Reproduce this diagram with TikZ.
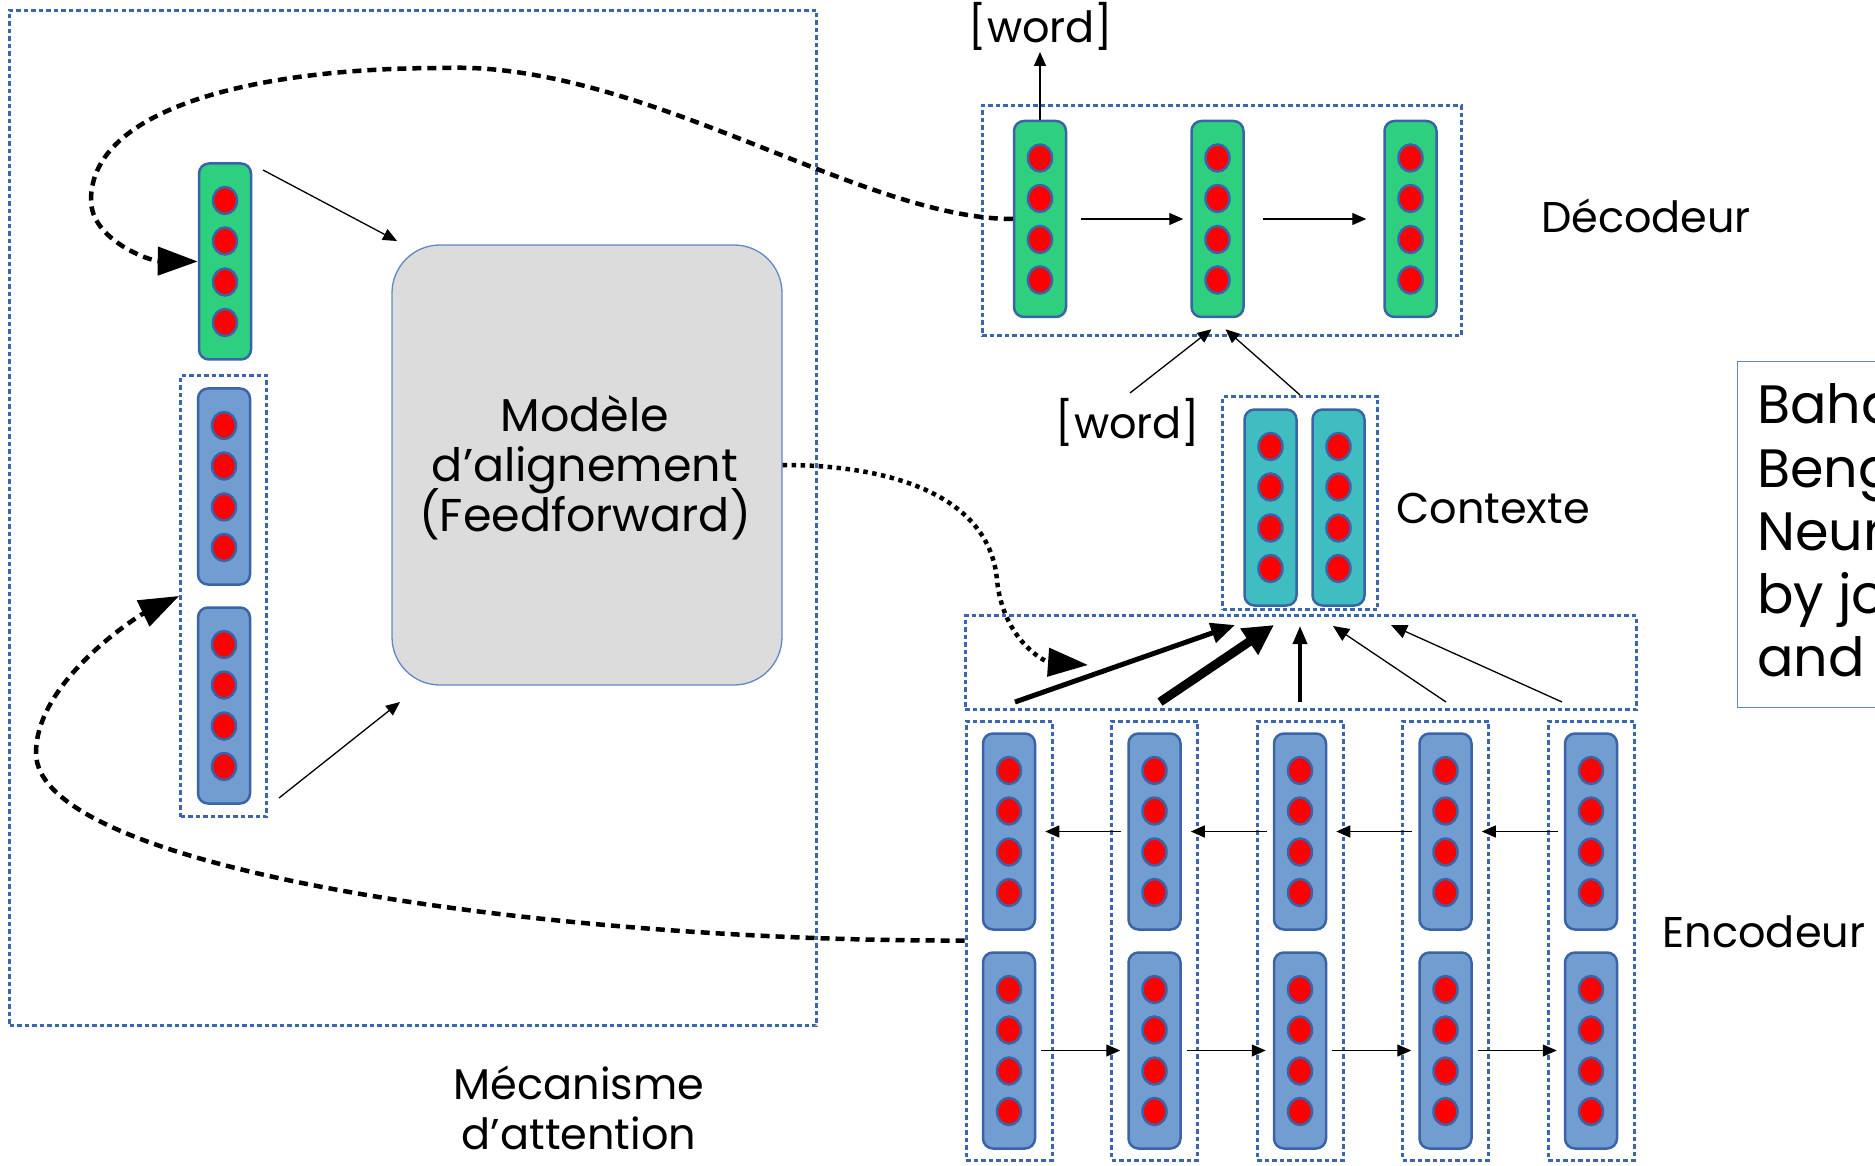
\documentclass[tikz,border=0pt]{standalone}
\usepackage{fontspec}
\setmainfont{Poppins}
\usetikzlibrary{arrows.meta}

\definecolor{cgreen}{RGB}{46,208,128}
\definecolor{cblue}{RGB}{114,157,208}
\definecolor{cteal}{RGB}{64,189,192}
\definecolor{cedge}{RGB}{58,99,168}
\definecolor{cframe}{RGB}{58,102,176}
\definecolor{cgray}{RGB}{220,220,220}
\definecolor{cline}{RGB}{96,136,198}

\tikzset{
  cellbox/.style={draw=cedge, line width=2.5pt, rounded corners=10pt,
    minimum width=52pt, minimum height=196pt, inner sep=0pt},
  neuron/.style={draw=cedge, line width=2.5pt, fill=red},
  frame/.style={draw=cframe, line width=3pt, dash pattern=on 4.5pt off 3pt, inner sep=0pt},
  thinarrow/.style={-{Triangle[length=14pt,width=12pt]}, line width=1.3pt},
  looplink/.style={line width=4.5pt, dash pattern=on 9pt off 6pt,
    -{Triangle[length=40pt,width=28pt]}},
  scorelink/.style={line width=4.5pt, dash pattern=on 4.5pt off 4.5pt,
    -{Triangle[length=40pt,width=28pt]}},
  lbl/.style={font=\fontsize{43}{48}\selectfont, anchor=base, inner sep=0pt},
  boxtext/.style={font=\fontsize{46}{48}\selectfont, anchor=base, inner sep=0pt},
  reftext/.style={font=\fontsize{54}{63}\selectfont, anchor=base west, inner sep=0pt},
}

% a vector: rounded column with four neurons
\newcommand\vecnode[4]{%
  \node[cellbox, fill=#4] (#1) at (#2,#3) {};
  \foreach \dy in {-61,-20.5,20.5,61}
    \draw[neuron] (#2,#3+\dy) ellipse [x radius=12pt, y radius=13.5pt];
}

\begin{document}
\begin{tikzpicture}[x=1pt, y=-1pt]
\clip (0,0) rectangle (1875,1166);
\fill[white] (0,0) rectangle (1875,1166);

% ---------- attention mechanism ----------
\node[frame, line width=2.5pt, minimum width=807pt, minimum height=1015pt] (attn) at (413,518) {};
\node[frame, minimum width=86pt, minimum height=441pt] (encpair) at (223.6,596) {};
\vecnode{q}{225}{261.5}{cgreen}
\vecnode{h1}{224}{486.5}{cblue}
\vecnode{h2}{224}{705.5}{cblue}
\node[draw=cline, line width=1.3pt, fill=cgray, rounded corners=48pt,
      minimum width=390pt, minimum height=440pt, inner sep=0pt] (align) at (587,465) {};
\node[boxtext] (al1) at (585,431) {Modèle};
\node[boxtext] (al2) at (585,481) {d’alignement};
\node[boxtext] (al3) at (585,531) {(Feedforward)};
\node[lbl] (mech1) at (579,1099) {Mécanisme};
\node[lbl] (mech2) at (579,1149) {d’attention};

% ---------- decoder ----------
\node[frame, minimum width=479pt, minimum height=230pt] (decbox) at (1221.5,221) {};
\vecnode{d1}{1040}{219}{cgreen}
\vecnode{d2}{1217.5}{219}{cgreen}
\vecnode{d3}{1410.5}{219}{cgreen}
\node[lbl] (decl) at (1646,233) {Décodeur};
\node[lbl] (wout) at (1041,43) {[word]};

% ---------- context ----------
\node[frame, minimum width=155pt, minimum height=213pt] (ctxbox) at (1300,503) {};
\vecnode{c1}{1270.5}{507.5}{cteal}
\vecnode{c2}{1338.5}{507.5}{cteal}
\node[lbl] (ctxl) at (1493,523) {Contexte};
\node[lbl] (win) at (1128,438) {[word]};

% ---------- attention weights ----------
\node[frame, minimum width=671pt, minimum height=94pt] (scorebox) at (1300.5,662.5) {};

% ---------- encoder ----------
\foreach \i/\x in {1/1009,2/1154.5,3/1300,4/1445.5,5/1591}{
  \node[frame, minimum width=86pt, minimum height=439pt] (e\i box) at (\x,940.5) {};
  \vecnode{e\i u}{\x}{831.5}{cblue}
  \vecnode{e\i l}{\x}{1050.5}{cblue}
}
\node[lbl] (encl) at (1764,947) {Encodeur};

% ---------- reference ----------
\node[draw=cline, line width=1.3pt, minimum width=400pt, minimum height=346pt,
      anchor=north west] (refbox) at (1737,361) {};
\node[reftext] (ref1) at (1757,424) {Bahdanau, Cho,};
\node[reftext] (ref2) at (1757,487) {Bengio.};
\node[reftext] (ref3) at (1757,550) {Neural};
\node[reftext] (ref4) at (1757,613) {by jointly};
\node[reftext] (ref5) at (1757,676) {and translate};

% ---------- free ends ----------
\coordinate (qa) at (263,170);
\coordinate (qb) at (397,241);
\coordinate (pa) at (279,798);
\coordinate (pb) at (400,702);
\coordinate (wtip) at (1040,52);
\coordinate (wstart) at (1130,393);
\coordinate (atip) at (1088,665);
\foreach \n/\sx/\tx/\ty in {1/1015/1235/625, 2/1160/1274/625, 3/1300/1300/626,
                            4/1446/1333/626, 5/1562/1391/625}{
  \coordinate (s\n) at (\sx,702);
  \coordinate (t\n) at (\tx,\ty);
}

% ---------- connectors ----------
\draw[thinarrow] (qa) -- (qb);
\draw[thinarrow] (pa) -- (pb);
\draw[thinarrow] (d1.north) -- (wtip);
\draw[thinarrow] ([xshift=14pt]d1.east) -- ([xshift=-7pt]d2.west);
\draw[thinarrow] ([xshift=18pt]d2.east) -- ([xshift=-17pt]d3.west);
\draw[thinarrow] (wstart) -- ([shift={(-6,11)}]d2.south);
\draw[thinarrow] (ctxbox.north) -- ([shift={(8,11)}]d2.south);

\draw[line width=5pt, -{Triangle[length=24pt,width=20pt]}] (s1) -- (t1);
\draw[line width=9pt, -{Triangle[length=30pt,width=30pt]}] (s2) -- (t2);
\draw[line width=3.5pt, -{Triangle[length=18pt,width=14pt]}] (s3) -- (t3);
\draw[line width=1.3pt, -{Triangle[length=16pt,width=14pt]}] (s4) -- (t4);
\draw[line width=1.3pt, -{Triangle[length=16pt,width=14pt]}] (s5) -- (t5);

\foreach \a/\b in {2/1,3/2,4/3,5/4}
  \draw[thinarrow] ([xshift=-6pt]e\a u.west) -- ([xshift=9pt]e\b u.east);
\foreach \a/\b in {1/2,2/3,3/4,4/5}
  \draw[thinarrow] ([xshift=5pt]e\a l.east) -- ([xshift=-7pt]e\b l.west);

\draw[looplink] (d1.west) .. controls (860,219) and (640,60) .. (442,68)
  .. controls (250,68) and (91,110) .. (91,200)
  .. controls (91,240) and (150,261) .. (q.west);
\draw[looplink] (e1box.west) .. controls (550,942) and (36,870) .. (36,753)
  .. controls (36,680) and (140,615) .. (encpair.west);
\draw[scorelink] (align.east) .. controls (900,465) and (990,500) .. (997,580)
  .. controls (1003,640) and (1045,662) .. (atip);
\end{tikzpicture}
\end{document}
